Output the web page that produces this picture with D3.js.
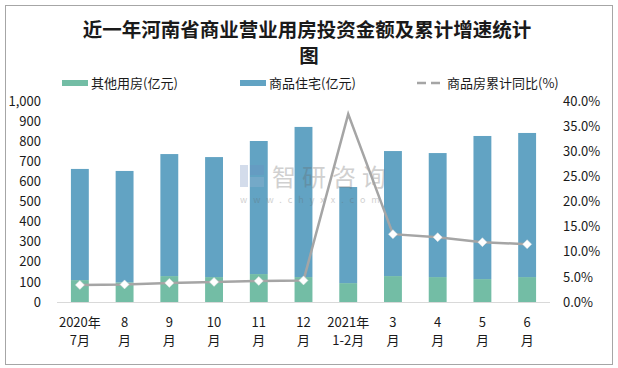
<!DOCTYPE html>
<html><head><meta charset="utf-8">
<script src="https://cdn.jsdelivr.net/npm/d3@7"></script>
<style>body{margin:0;background:#fff}svg{display:block}</style>
</head><body>
<script>
const catLine1 = ["2020年","8","9","10","11","12","2021年","3","4","5","6"];
const catLine2 = ["7月","月","月","月","月","月","1-2月","月","月","月","月"];
const other = [109, 98, 129, 124, 139, 124, 94, 129, 124, 114, 124];
const residential = [553, 554, 607, 597, 662, 747, 478, 622, 617, 712, 717];
const growth = [3.4, 3.5, 3.8, 4.0, 4.2, 4.3, 37.4, 13.5, 12.9, 11.9, 11.5];
const leftTicks = [0,100,200,300,400,500,600,700,800,900,1000];
const rightTicks = [0,5,10,15,20,25,30,35,40];

const W=618,H=368;
const svg=d3.select("body").append("svg").attr("width",W).attr("height",H);
const font="'Microsoft YaHei','Noto Sans CJK SC',sans-serif";
svg.append("rect").attr("x",5.5).attr("y",5.5).attr("width",607).attr("height",359)
  .attr("fill","#fff").attr("stroke","#a6a6a6");

// title
const tAttrs=s=>s.attr("text-anchor","middle").attr("font-family","'Noto Sans CJK SC',sans-serif")
  .attr("font-weight","bold").attr("font-size",19.5).attr("fill","#1a1a1a");
svg.append("text").call(tAttrs).attr("x",307).attr("y",37).text("近一年河南省商业营业用房投资金额及累计增速统计");
svg.append("text").call(tAttrs).attr("x",309).attr("y",63).text("图");

const idx=d3.range(catLine1.length);
const x=d3.scaleBand().domain(idx).range([57.5,549.5]).paddingInner(0.6).paddingOuter(0.3);
const y=d3.scaleLinear().domain([0,1000]).range([302,101]);
const y2=d3.scaleLinear().domain([0,40]).range([302,101]);
const cGreen="#73bda5", cBlue="#62a3c3", cLine="#a5a5a5";

// baseline
svg.append("line").attr("x1",57).attr("x2",550).attr("y1",302.5).attr("y2",302.5).attr("stroke","#d9d9d9");

// bars
const stackData=idx.map(i=>({i,other:other[i],res:residential[i]}));
const series=d3.stack().keys(["other","res"])(stackData);
const colors={other:cGreen,res:cBlue};
svg.append("g").selectAll("g").data(series).join("g").attr("fill",d=>colors[d.key])
  .selectAll("rect").data(d=>d).join("rect")
  .attr("x",d=>x(d.data.i)).attr("width",x.bandwidth())
  .attr("y",d=>y(d[1])).attr("height",d=>y(d[0])-y(d[1]));

// watermark (on top, translucent)
const wm=svg.append("g").attr("opacity",0.3);
wm.append("rect").attr("x",240).attr("y",165).attr("width",8).attr("height",22).attr("fill","#6f8fc0");
wm.append("rect").attr("x",250).attr("y",165).attr("width",14).attr("height",10).attr("fill","#6f8fc0");
wm.append("rect").attr("x",250).attr("y",177).attr("width",14).attr("height",10).attr("fill","#9fb7d6");
wm.append("text").attr("x",272).attr("y",186).attr("font-family",font).attr("font-size",24)
  .attr("fill","#666").attr("letter-spacing",6).text("智研咨询");
wm.append("text").attr("x",240).attr("y",203).attr("font-family",font).attr("font-size",9)
  .attr("fill","#666").attr("letter-spacing",6).text("www.chyxx.com");

// line
const line=d3.line().x(i=>x(i)+x.bandwidth()/2).y(i=>y2(growth[i]));
svg.append("path").datum(idx).attr("d",line).attr("fill","none").attr("stroke",cLine).attr("stroke-width",2.5);
svg.append("g").selectAll("path").data(idx.filter(i=>i!==6)).join("path")
  .attr("transform",i=>`translate(${x(i)+x.bandwidth()/2},${y2(growth[i])})`)
  .attr("d","M0,-4.5L4.5,0L0,4.5L-4.5,0Z")
  .attr("fill","#fff").attr("stroke","#e0e0e0").attr("stroke-width",0.5);

// left axis
const yAx=d3.axisLeft(y).tickValues(leftTicks).tickSize(0).tickPadding(0).tickFormat(d3.format(","));
const gl=svg.append("g").attr("transform","translate(41,0)").call(yAx);
gl.select(".domain").remove();
gl.selectAll("text").attr("font-family",font).attr("font-size",13).attr("fill","#1a1a1a");

// right axis
const y2Ax=d3.axisRight(y2).tickValues(rightTicks).tickSize(0).tickPadding(0).tickFormat(d=>d.toFixed(1)+"%");
const gr=svg.append("g").attr("transform","translate(563,0)").call(y2Ax);
gr.select(".domain").remove();
gr.selectAll("text").attr("font-family",font).attr("font-size",13).attr("fill","#1a1a1a");

// x labels
const xl=svg.append("g").attr("font-family",font).attr("font-size",13).attr("fill","#1a1a1a").attr("text-anchor","middle");
xl.selectAll("text.l1").data(idx).join("text").attr("class","l1")
  .attr("x",i=>x(i)+x.bandwidth()/2).attr("y",327).text(i=>catLine1[i]);
xl.selectAll("text.l2").data(idx).join("text").attr("class","l2")
  .attr("x",i=>x(i)+x.bandwidth()/2).attr("y",345).text(i=>catLine2[i]);

// legend
const lg=svg.append("g").attr("font-family",font).attr("font-size",13).attr("fill","#1a1a1a");
lg.append("rect").attr("x",62).attr("y",80).attr("width",26).attr("height",6).attr("fill",cGreen);
lg.append("text").attr("x",91).attr("y",88).text("其他用房(亿元)");
lg.append("rect").attr("x",240).attr("y",80).attr("width",26).attr("height",6).attr("fill",cBlue);
lg.append("text").attr("x",269).attr("y",88).text("商品住宅(亿元)");
lg.append("line").attr("x1",417).attr("x2",445).attr("y1",83).attr("y2",83)
  .attr("stroke",cLine).attr("stroke-width",2.5).attr("stroke-dasharray","9,5");
lg.append("text").attr("x",447).attr("y",88).text("商品房累计同比(%)");
</script>
</body></html>
